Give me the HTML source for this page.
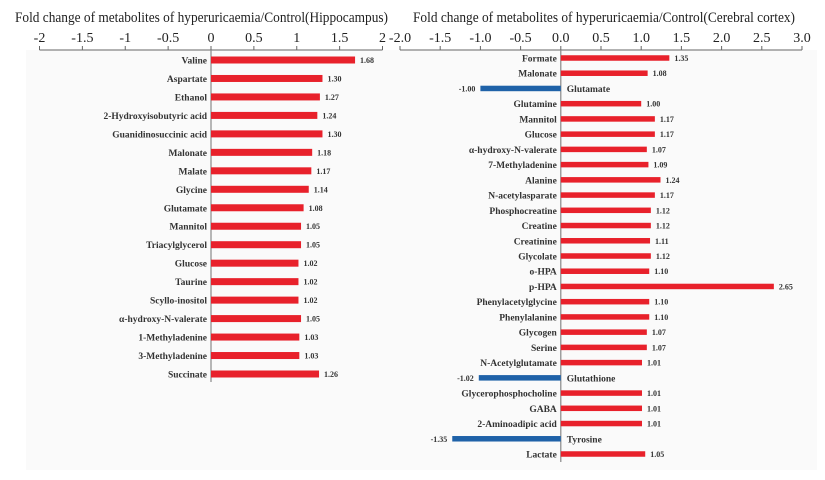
<!DOCTYPE html>
<html><head><meta charset="utf-8"><style>
body{margin:0;background:#fff;}
svg{display:block;font-family:"Liberation Serif",serif;}
.cat{font-size:9.5px;font-weight:bold;fill:#333;}
.val{font-size:8px;font-weight:bold;fill:#333;}
.tick{font-size:14px;fill:#222;}
.title{font-size:15px;fill:#222;}
</style></head><body>
<svg id="chart" width="825" height="480">
<rect x="26" y="50" width="791" height="420" fill="#fafafa"/>
</svg>
<script>
const hipCats=["Valine","Aspartate","Ethanol","2-Hydroxyisobutyric acid","Guanidinosuccinic acid","Malonate","Malate","Glycine","Glutamate","Mannitol","Triacylglycerol","Glucose","Taurine","Scyllo-inositol","α-hydroxy-N-valerate","1-Methyladenine","3-Methyladenine","Succinate"];
const hipVals=[1.68,1.30,1.27,1.24,1.30,1.18,1.17,1.14,1.08,1.05,1.05,1.02,1.02,1.02,1.05,1.03,1.03,1.26];
const hipTicks=[-2,-1.5,-1,-0.5,0,0.5,1,1.5,2];
const hipTickLabels=["-2","-1.5","-1","-0.5","0","0.5","1","1.5","2"];
const ctxCats=["Formate","Malonate","Glutamate","Glutamine","Mannitol","Glucose","α-hydroxy-N-valerate","7-Methyladenine","Alanine","N-acetylasparate","Phosphocreatine","Creatine","Creatinine","Glycolate","o-HPA","p-HPA","Phenylacetylglycine","Phenylalanine","Glycogen","Serine","N-Acetylglutamate","Glutathione","Glycerophosphocholine","GABA","2-Aminoadipic acid","Tyrosine","Lactate"];
const ctxVals=[1.35,1.08,-1.00,1.00,1.17,1.17,1.07,1.09,1.24,1.17,1.12,1.12,1.11,1.12,1.10,2.65,1.10,1.10,1.07,1.07,1.01,-1.02,1.01,1.01,1.01,-1.35,1.05];
const ctxTicks=[-2,-1.5,-1,-0.5,0,0.5,1,1.5,2,2.5,3];
const ctxTickLabels=["-2.0","-1.5","-1.0","-0.5","0.0","0.5","1.0","1.5","2.0","2.5","3.0"];

const svg=document.getElementById('chart');
const NS="http://www.w3.org/2000/svg";
function mk(tag,attrs,text){const e=document.createElementNS(NS,tag);for(const k in attrs)e.setAttribute(k,attrs[k]);if(text!==undefined)e.textContent=text;svg.appendChild(e);return e;}

function panel(cfg){
  const x=v=>cfg.x0+(v-cfg.dmin)/(cfg.dmax-cfg.dmin)*(cfg.x1-cfg.x0);
  const y=i=>cfg.yFirst+i*(cfg.yLast-cfg.yFirst)/(cfg.cats.length-1);
  const t=mk('text',{x:cfg.titleX,y:22,'class':'title',textLength:cfg.titleW,lengthAdjust:'spacingAndGlyphs'},cfg.title);
  
  
  const ax=mk('line',{x1:x(cfg.dmin),x2:x(cfg.dmax),y1:50,y2:50,stroke:'#666','stroke-width':1});
  
  
  cfg.ticks.forEach((v,i)=>{
    const tk=mk('line',{x1:x(v),x2:x(v),y1:46,y2:50,stroke:'#666','stroke-width':1});
    
    
    const tl=mk('text',{x:x(v),y:42,'class':'tick','text-anchor':'middle'},cfg.tickLabels[i]);
    
    
  });
  const zl=mk('line',{x1:x(0),x2:x(0),y1:50,y2:y(cfg.cats.length-1)+8,stroke:'#888','stroke-width':1.2});
  
  
  cfg.cats.forEach((c,i)=>{
    const v=cfg.vals[i];const yy=y(i);const h=cfg.barH;
    const neg=v<0;
    const b=mk('rect',{x:Math.min(x(0),x(v)),y:yy-h/2,width:Math.abs(x(v)-x(0)),height:h,fill:neg?'#1f62a8':'#e8212b'});
    
    
    const lab=mk('text',{x:neg?x(0)+6:x(0)-4,y:yy+3.5,'class':'cat','text-anchor':neg?'start':'end'},c);
    
    
    const vl=mk('text',{x:neg?x(v)-5:x(v)+5,y:yy+3,'class':'val','text-anchor':neg?'end':'start'},v.toFixed(2));
    
    
  });
}
panel({prefix:'hippocampus',title:'Fold change of metabolites of hyperuricaemia/Control(Hippocampus)',titleX:15,titleW:373,cats:hipCats,vals:hipVals,ticks:hipTicks,tickLabels:hipTickLabels,dmin:-2,dmax:2,x0:39.5,x1:382.5,yFirst:60,yLast:374,barH:7});
panel({prefix:'cortex',title:'Fold change of metabolites of hyperuricaemia/Control(Cerebral cortex)',titleX:413,titleW:382,cats:ctxCats,vals:ctxVals,ticks:ctxTicks,tickLabels:ctxTickLabels,dmin:-2,dmax:3,x0:400,x1:802,yFirst:58,yLast:454,barH:5.5});
</script>
</body></html>
